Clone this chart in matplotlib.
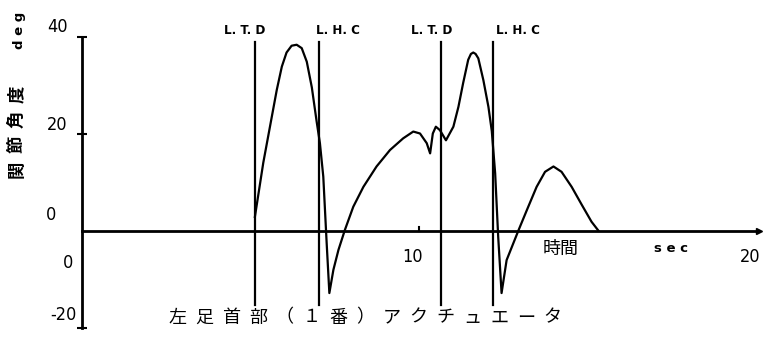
import matplotlib
matplotlib.use("Agg")
import matplotlib.pyplot as plt

# joint angle trace (sec, deg)
t = [5.13, 5.38, 5.58, 5.78, 5.93, 6.07, 6.22, 6.37, 6.52, 6.67, 6.82, 6.96,
     7.06, 7.16, 7.26, 7.34, 7.46, 7.61, 7.80, 8.05, 8.35, 8.74, 9.14, 9.53,
     9.83, 10.03, 10.23, 10.33, 10.41, 10.50, 10.62, 10.80, 11.02, 11.17,
     11.31, 11.46, 11.54, 11.61, 11.68, 11.76, 11.91, 12.06, 12.16, 12.26,
     12.35, 12.45, 12.60, 12.95, 13.20, 13.49, 13.74, 13.99, 14.23, 14.53,
     14.83, 15.12, 15.32]
angle = [2.8, 14.0, 21.5, 29.0, 33.8, 36.7, 38.1, 38.3, 37.6, 34.8, 29.5, 22.6,
         18.0, 11.1, -2.6, -12.9, -8.1, -4.0, 0.1, 4.9, 9.0, 13.2, 16.6, 19.0,
         20.4, 20.0, 18.0, 15.9, 20.0, 21.4, 20.7, 18.6, 21.4, 25.5,
         30.4, 35.2, 36.4, 36.7, 36.4, 35.5, 31.0, 25.5, 20.5, 11.8,
         -1.3, -12.9, -6.1, 0.0, 4.2, 9.0, 12.1, 13.2, 12.1, 9.0,
         5.3, 1.8, 0.0]

# gait events
events = [5.13, 7.03, 10.64, 12.21]
event_labels = ["L. T. D", "L. H. C", "L. T. D", "L. H. C"]
label_x = [4.84, 7.6, 10.39, 12.94]

yticks = [40, 20, -20]
title = "左足首部（１番）アクチュエータ"
jp_font = ["Noto Sans CJK JP", "DejaVu Sans"]

fig = plt.figure(figsize=(7.69, 3.38), dpi=100)
ax = fig.add_axes([82 / 769, 10.5 / 338, 674 / 769, 291 / 338])
ax.set_xlim(0, 20)
ax.set_ylim(-20, 40)
for s in ["top", "right", "bottom"]:
    ax.spines[s].set_visible(False)
ax.spines["left"].set_linewidth(2)
ax.set_xticks([])
ax.set_yticks(yticks)
ax.set_yticklabels([])
ax.tick_params(axis="y", direction="inout", length=7, width=1.5)

# time axis with arrow head
ax.plot([0, 20.1], [0, 0], color="k", lw=2, clip_on=False)
ax.plot([20.1], [0], marker=">", color="k", ms=4, clip_on=False)
ax.plot([10, 10], [0, 0.8], color="k", lw=1.5)

for ev in events:
    ax.plot([ev, ev], [-15.4, 38.8], color="k", lw=1.6)
for lx, lab in zip(label_x, event_labels):
    ax.text(lx, 41.3, lab, ha="center", va="center", fontsize=9.5,
            fontweight="bold", fontstretch="condensed", clip_on=False)

ax.plot(t, angle, color="k", lw=1.6)

# tick labels
kw = dict(ha="center", va="center", fontsize=13, fontstretch="condensed",
          clip_on=False)
ax.text(-0.74, 41.9, "40", **kw)
ax.text(-0.74, 21.8, "20", **kw)
ax.text(-0.92, 3.2, "0", **kw)
ax.text(-0.42, -6.7, "0", **kw)
ax.text(-0.56, -17.4, "-20", **kw)
ax.text(9.82, -5.5, "10", **kw)
ax.text(19.82, -5.5, "20", **kw)
ax.text(14.21, -3.8, "時間", ha="center", va="center", fontsize=13,
        family=jp_font)
ax.text(17.48, -3.8, "s e c", ha="center", va="center", fontsize=9.5,
        fontweight="bold")

# y label: rotated kanji plus unit
for i, ch in enumerate("関節角度"):
    fig.text(17 / 769, 1 - (169 - i * 25) / 338, ch, rotation=90,
             ha="center", va="center", fontsize=12.5,
             family=jp_font, fontweight="bold")
fig.text(20 / 769, 1 - 30 / 338, "d e g", rotation=90, ha="center",
         va="center", fontsize=9.5, fontweight="bold")

# caption along the bottom
for i, ch in enumerate(title):
    fig.text((177.5 + i * 26.8) / 769, 1 - 317.5 / 338, ch, ha="center",
             va="center", fontsize=13, family=jp_font)

fig.savefig("out.png", dpi=100)
